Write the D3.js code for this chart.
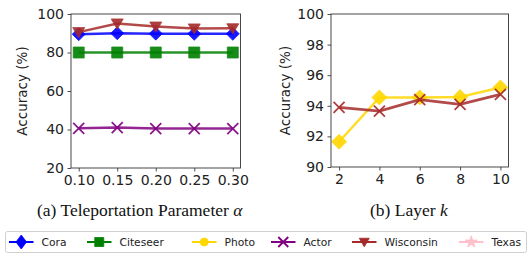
<!DOCTYPE html>
<html><head><meta charset="utf-8">
<script src="https://cdn.jsdelivr.net/npm/d3@7"></script>
<style>body{margin:0;background:#fff}svg{display:block}</style>
</head><body>
<svg id="c" width="531" height="262"></svg>
<script>
// ---- data ----
const alphaTicks = [0.10, 0.15, 0.20, 0.25, 0.30];
const alphaTickLabels = ["0.10", "0.15", "0.20", "0.25", "0.30"];
const cora = [89.5, 90.0, 89.8, 89.7, 89.7];
const citeseer = [80.0, 80.0, 80.0, 80.0, 80.0];
const actor = [40.6, 41.0, 40.5, 40.5, 40.5];
const wisconsin = [90.6, 95.1, 93.5, 92.5, 92.6];
const leftYTicks = [20, 40, 60, 80, 100];

const layers = [2, 4, 6, 8, 10];
const photoK = [91.65, 94.55, 94.55, 94.57, 95.2];
const wisconsinK = [93.9, 93.65, 94.4, 94.1, 94.75];
const rightYTicks = [90, 92, 94, 96, 98, 100];

const legendNames = ["Cora", "Citeseer", "Photo", "Actor", "Wisconsin", "Texas"];
const legendColors = ["#0000FF", "#008000", "#FFD700", "#800080", "#A52A2A", "#FFC0CB"];
const legendMarkers = ["thindiamond", "square", "circle", "x", "tridown", "star"];

// ---- drawing ----
const svg = d3.select("#c");
const tickFont = "DejaVu Sans, sans-serif";
const legendX = [9, 87, 192, 271, 352, 459];

function markerPath(type, s) {
  const h = s / 2;
  const p = d3.path();
  if (type === "diamond") {
    p.moveTo(0, -h); p.lineTo(h, 0); p.lineTo(0, h); p.lineTo(-h, 0); p.closePath();
  } else if (type === "thindiamond") {
    p.moveTo(0, -h); p.lineTo(h * 0.75, 0); p.lineTo(0, h); p.lineTo(-h * 0.75, 0); p.closePath();
  } else if (type === "square") {
    p.rect(-h, -h, s, s);
  } else if (type === "tridown") {
    p.moveTo(-h, -h * 0.75); p.lineTo(h, -h * 0.75); p.lineTo(0, h * 0.95); p.closePath();
  } else if (type === "x") {
    p.moveTo(-h, -h); p.lineTo(h, h); p.moveTo(-h, h); p.lineTo(h, -h);
  } else if (type === "circle") {
    p.arc(0, 0, h, 0, 2 * Math.PI);
  } else if (type === "star") {
    return d3.symbol(d3.symbolStar, s * s * 0.45)();
  }
  return p.toString();
}

function drawMarker(g, type, x, y, s, color, op) {
  const path = g.append("path").attr("d", markerPath(type, s))
    .attr("transform", `translate(${x},${y})`);
  if (type === "x") path.attr("fill", "none").attr("stroke", color).attr("stroke-width", 1.8).attr("opacity", op);
  else path.attr("fill", color).attr("stroke", color).attr("stroke-width", 0.8).attr("opacity", op);
}

function panel(x0, x1, y0, y1, xDomain, yDomain, xTicks, xLabels, yTicks, labelX, series) {
  const x = d3.scaleLinear().domain(xDomain).range([x0, x1]);
  const y = d3.scaleLinear().domain(yDomain).range([y1, y0]);
  const g = svg.append("g");
  series.forEach(s => {
    const line = d3.line().x((d, i) => x(xTicks[i])).y(d => y(d));
    g.append("path").datum(s.values).attr("d", line)
      .attr("fill", "none").attr("stroke", s.color).attr("stroke-width", s.lw)
      .attr("stroke-opacity", 0.85);
    s.values.forEach((v, i) => drawMarker(g, s.marker, x(xTicks[i]), y(v), s.size, s.color, 0.9));
  });
  const xa = svg.append("g").attr("transform", `translate(0,${y1})`)
    .call(d3.axisBottom(x).tickValues(xTicks).tickFormat((d, i) => xLabels[i]).tickSize(3.5).tickPadding(3.5));
  const ya = svg.append("g").attr("transform", `translate(${x0},0)`)
    .call(d3.axisLeft(y).tickValues(yTicks).tickSize(3.5).tickPadding(3.5));
  [xa, ya].forEach(a => {
    a.select(".domain").remove();
    a.selectAll("line").attr("stroke", "#222").attr("stroke-width", 0.8);
    a.selectAll("text").attr("font-family", tickFont).attr("font-size", 14).attr("fill", "#222");
  });
  svg.append("rect").attr("x", x0).attr("y", y0).attr("width", x1 - x0).attr("height", y1 - y0)
    .attr("fill", "none").attr("stroke", "#333").attr("stroke-width", 0.9);
  svg.append("text").attr("transform", `translate(${labelX},${(y0 + y1) / 2}) rotate(-90)`)
    .attr("text-anchor", "middle").attr("dy", "0.35em")
    .attr("font-family", tickFont).attr("font-size", 13.5).attr("fill", "#222")
    .text("Accuracy (%)");
}

panel(71, 240.5, 14, 168, [0.09, 0.31], [20, 100], alphaTicks, alphaTickLabels, leftYTicks, 22, [
  {values: actor, color: legendColors[3], marker: "x", size: 11, lw: 2.5},
  {values: citeseer, color: legendColors[1], marker: "square", size: 11, lw: 2.5},
  {values: cora, color: legendColors[0], marker: "diamond", size: 13, lw: 2.5},
  {values: wisconsin, color: legendColors[4], marker: "tridown", size: 12, lw: 2.5}
]);

panel(331, 508.5, 14, 167, [1.6, 10.4], [90, 100], layers, layers.map(String), rightYTicks, 285, [
  {values: photoK, color: legendColors[2], marker: "diamond", size: 15, lw: 2.5},
  {values: wisconsinK, color: legendColors[4], marker: "x", size: 11, lw: 2.8}
]);

// captions
const cap = svg.append("text").attr("x", 37).attr("y", 216)
  .attr("font-family", "Liberation Serif, Times New Roman, serif").attr("font-size", 17.5).attr("fill", "#111");
cap.append("tspan").text("(a) Teleportation Parameter ");
cap.append("tspan").attr("font-style", "italic").text("α");
const cap2 = svg.append("text").attr("x", 370).attr("y", 216)
  .attr("font-family", "Liberation Serif, Times New Roman, serif").attr("font-size", 17.5).attr("fill", "#111");
cap2.append("tspan").text("(b) Layer ");
cap2.append("tspan").attr("font-style", "italic").text("k");

// legend
const lg = svg.append("g");
lg.append("rect").attr("x", 5.5).attr("y", 231.5).attr("width", 521).attr("height", 21)
  .attr("rx", 2).attr("fill", "#fff").attr("stroke", "#d0d0d0").attr("stroke-width", 1);
const ly = 242;
const legendSizes = {thindiamond: 14, square: 9, circle: 8, x: 10, tridown: 10, star: 10};
legendNames.forEach((name, i) => {
  const lx = legendX[i];
  lg.append("line").attr("x1", lx).attr("x2", lx + 24.5).attr("y1", ly).attr("y2", ly)
    .attr("stroke", legendColors[i]).attr("stroke-width", 2);
  drawMarker(lg, legendMarkers[i], lx + 12.25, ly, legendSizes[legendMarkers[i]], legendColors[i], 1);
  lg.append("text").attr("x", lx + 32.5).attr("y", ly).attr("dy", "0.35em")
    .attr("font-family", tickFont).attr("font-size", 10.7).attr("fill", "#222").text(name);
});
</script>
</body></html>
